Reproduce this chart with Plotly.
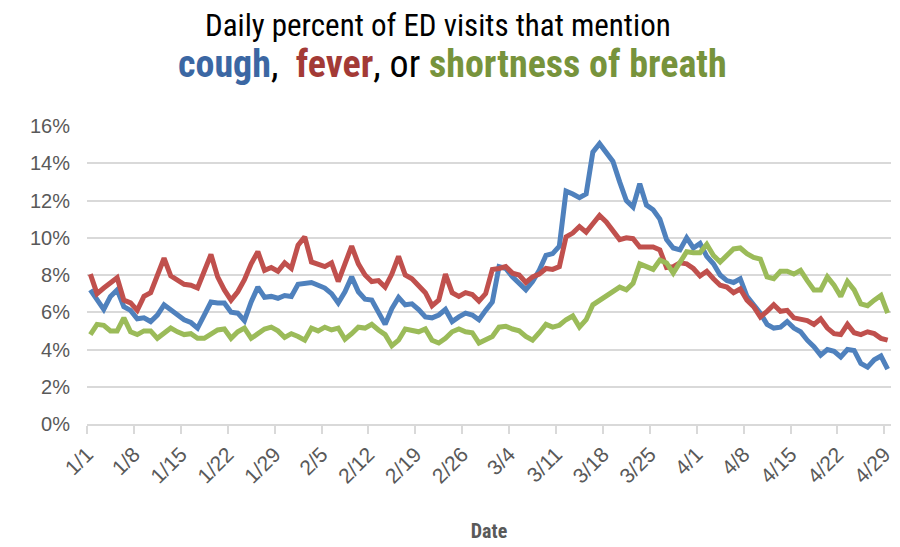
import pandas as pd
import plotly.graph_objects as go

start_date = "2020-01-01"
n_days = 120

cough = [7.2, 6.65, 6.15, 6.85, 7.2, 6.3, 6.1, 5.65, 5.7, 5.5, 5.85, 6.4, 6.15, 5.9, 5.6, 5.45, 5.15, 5.85, 6.55, 6.5, 6.5, 6.0, 5.95, 5.55, 6.55, 7.35, 6.8, 6.85,
         6.75, 6.9, 6.85, 7.5, 7.55, 7.6, 7.45, 7.3, 7.0, 6.5, 7.1, 7.9, 7.1, 6.7, 6.65, 6.05, 5.35, 6.2, 6.8, 6.4, 6.45, 6.15, 5.75, 5.7, 5.85, 6.15, 5.5, 5.75,
         5.95, 5.85, 5.6, 6.1, 6.55, 8.45, 8.35, 7.9, 7.55, 7.2, 7.65, 8.25, 9.05, 9.15, 9.55, 12.5, 12.35, 12.15, 12.35, 14.6, 15.05, 14.6, 14.1, 13.0, 12.0, 11.65, 12.9, 11.75, 11.5,
         11.0, 9.9, 9.45, 9.35, 10.0, 9.45, 9.7, 9.0, 8.6, 8.0, 7.7, 7.6, 7.8, 6.85, 6.4, 5.95, 5.35, 5.15, 5.2, 5.5, 5.15, 4.95, 4.5, 4.15, 3.7, 4.0, 3.9, 3.6, 4.0, 3.95, 3.25, 3.05, 3.45, 3.65, 2.95]

fever = [8.05, 7.0, 7.3, 7.55, 7.85, 6.65, 6.5, 6.1, 6.85, 7.05, 7.9, 8.9, 7.95, 7.75, 7.5, 7.45, 7.3, 8.2, 9.1, 7.9, 7.2, 6.65, 7.1, 7.75, 8.6, 9.25, 8.25, 8.4,
         8.2, 8.65, 8.35, 9.6, 10.05, 8.7, 8.55, 8.45, 8.65, 7.65, 8.6, 9.55, 8.6, 8.0, 7.65, 7.7, 7.35, 8.05, 9.0, 8.0, 7.8, 7.45, 7.05, 6.35, 6.65, 8.05, 7.05, 6.85,
         7.05, 6.95, 6.6, 7.0, 8.3, 8.35, 8.45, 8.1, 8.0, 7.6, 7.9, 8.05, 8.35, 8.3, 8.45, 10.05, 10.25, 10.6, 10.3, 10.75, 11.2, 10.85, 10.4, 9.9, 10.0, 9.95, 9.5, 9.5, 9.5,
         9.35, 8.4, 8.45, 8.65, 8.6, 8.35, 7.95, 8.2, 7.8, 7.45, 7.35, 7.05, 7.25, 6.65, 6.3, 5.75, 6.05, 6.4, 6.05, 6.1, 5.7, 5.65, 5.55, 5.35, 5.65, 5.15, 4.85, 4.8, 5.35, 4.9, 4.8, 4.95, 4.85, 4.6, 4.5]

breath = [4.8, 5.35, 5.3, 5.0, 5.0, 5.7, 4.95, 4.8, 5.0, 5.0, 4.6, 4.85, 5.15, 4.95, 4.8, 4.85, 4.6, 4.6, 4.8, 5.05, 5.1, 4.6, 4.95, 5.15, 4.6, 4.85, 5.1, 5.2,
          5.0, 4.65, 4.85, 4.7, 4.5, 5.15, 5.0, 5.2, 5.05, 5.15, 4.55, 4.85, 5.2, 5.15, 5.35, 5.05, 4.8, 4.2, 4.5, 5.1, 5.0, 4.95, 5.1, 4.5, 4.35, 4.6, 4.95, 5.1,
          4.95, 4.9, 4.35, 4.5, 4.7, 5.2, 5.25, 5.1, 5.0, 4.7, 4.5, 4.9, 5.35, 5.2, 5.3, 5.6, 5.8, 5.2, 5.6, 6.4, 6.65, 6.85, 7.15, 7.35, 7.2, 7.55, 8.6, 8.45, 8.3,
          8.8, 8.65, 8.1, 8.65, 9.25, 9.2, 9.2, 9.65, 9.05, 8.7, 9.05, 9.4, 9.45, 9.15, 8.95, 8.85, 7.9, 7.8, 8.2, 8.2, 8.05, 8.25, 7.7, 7.2, 7.2, 7.9, 7.45, 6.85, 7.65, 7.2, 6.45, 6.35, 6.65, 6.9, 5.95]

y_ticks = [0, 2, 4, 6, 8, 10, 12, 14, 16]
tick_dates = pd.date_range(start_date, "2020-04-29", freq="7D")
tick_labels = [f"{d.month}/{d.day}" for d in tick_dates]

# points sit in the middle of each day's slot (Excel "between tick marks")
dates = pd.date_range(start_date, periods=n_days, freq="D") + pd.Timedelta(hours=12)

BLUE, RED, GREEN = "#4F81BD", "#C0504D", "#9BBB59"
NARROW = "Liberation Sans Narrow, Arial Narrow, Roboto Condensed, Liberation Sans, Arial, sans-serif"

fig = go.Figure()
for name, vals, col in [("cough", cough, BLUE), ("fever", fever, RED), ("shortness of breath", breath, GREEN)]:
    fig.add_trace(go.Scatter(x=dates, y=vals, mode="lines", name=name,
                             line=dict(color=col, width=5, shape="linear")))

fig.update_layout(
    width=900, height=547,
    margin=dict(l=79, r=17, t=118, b=131),
    plot_bgcolor="white", paper_bgcolor="white",
    showlegend=False,
    font=dict(family=NARROW, color="#595959"),
)
fig.update_xaxes(
    range=[pd.Timestamp(start_date), pd.Timestamp("2020-04-30")],
    tickvals=tick_dates, ticktext=tick_labels, tickangle=-45,
    tickfont=dict(size=21, family="Liberation Sans, Arial, sans-serif", color="#595959"),
    showgrid=False, showline=True, linecolor="#d9d9d9", linewidth=1.5,
    ticks="outside", ticklen=8, tickcolor="#d9d9d9", tickwidth=1.5,
    title=dict(text="<b>Date</b>", font=dict(size=20, family=NARROW, color="#595959"), standoff=37),
    automargin=False,
)
fig.update_yaxes(
    range=[0, 16], tickvals=y_ticks, ticktext=[f"{v}%" for v in y_ticks],
    tickfont=dict(size=20, family="Liberation Sans, Arial, sans-serif", color="#595959"),
    showgrid=True, gridcolor="#d9d9d9", gridwidth=1.5, zeroline=False,
    ticks="", ticklabelstandoff=16, automargin=False,
)

fig.add_annotation(text="Daily percent of ED visits that mention", xref="paper", yref="paper",
                   x=0.4366, y=1, yshift=101, showarrow=False,
                   font=dict(size=31, family=NARROW, color="black"), yanchor="middle")
fig.add_annotation(
    text=(f"<b><span style='color:#3B67A3'>cough</span></b>,  "
          f"<b><span style='color:#A33A36'>fever</span></b>, or "
          f"<b><span style='color:#77933C'>shortness of breath</span></b>"),
    xref="paper", yref="paper", x=0.454, y=1, yshift=62, showarrow=False,
    font=dict(size=38, family=NARROW, color="black"), yanchor="middle")

fig.write_html("out.html")
